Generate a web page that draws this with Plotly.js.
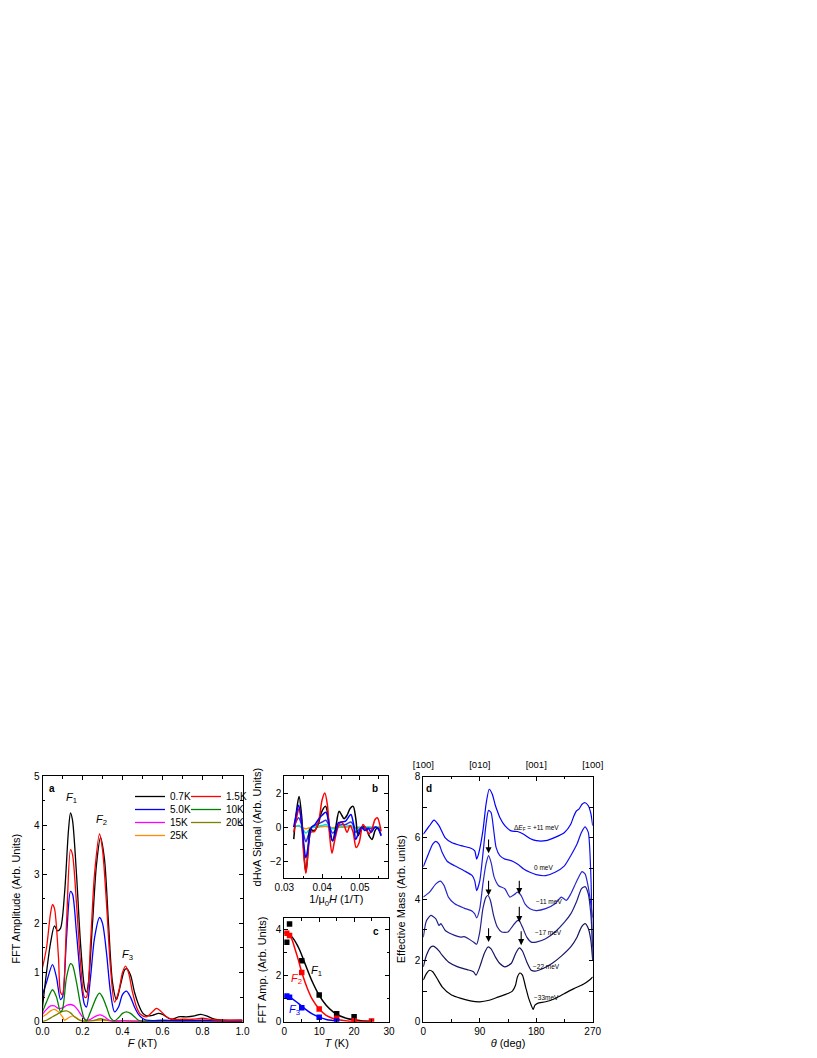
<!DOCTYPE html>
<html>
<head>
<meta charset="utf-8">
<script src="https://cdn.plot.ly/plotly-3.0.1.min.js"></script>
<style>
html,body{margin:0;padding:0;background:#fff;}
#plot{width:817px;height:1058px;}
</style>
</head>
<body>
<div id="plot"></div>
<script>
// ---------- Panel a: FFT amplitude vs F (kT) ----------
const aLabels = ['0.7K','1.5K','5.0K','10K','15K','20K','25K'];
const aColors = ['#000000','#ff0000','#0000ff','#008000','#ff00ff','#808000','#ff8c00'];
const a07F = [0,0.02,0.04,0.06,0.075,0.09,0.11,0.13,0.14,0.15,0.17,0.19,0.21,0.22,0.23,0.25,0.27,0.29,0.31,0.33,0.35,0.37,0.39,0.41,0.42,0.44,0.46,0.48,0.50,0.52,0.55,0.58,0.60,0.63,0.65,0.68,0.72,0.76,0.79,0.82,0.86,0.9,1.0];
const a07A = [0.3,1.0,1.6,1.95,1.85,1.9,2.6,3.9,4.25,4.1,3.0,1.6,0.7,0.6,0.8,2.0,3.2,3.75,3.3,2.0,0.8,0.45,0.75,1.05,1.08,0.95,0.6,0.35,0.18,0.12,0.13,0.17,0.15,0.07,0.05,0.1,0.1,0.12,0.15,0.12,0.05,0.03,0.03];
const a15F = [0,0.02,0.04,0.05,0.06,0.08,0.09,0.10,0.12,0.14,0.15,0.17,0.19,0.21,0.22,0.24,0.26,0.285,0.30,0.32,0.34,0.36,0.38,0.40,0.415,0.43,0.45,0.47,0.49,0.52,0.55,0.57,0.59,0.62,0.65,0.7,0.75,0.8,0.85,1.0];
const a15A = [1.1,1.5,2.2,2.38,2.3,1.3,0.6,0.55,2.0,3.5,3.4,2.4,1.2,0.5,0.5,1.6,3.0,3.82,3.5,2.4,1.1,0.4,0.6,1.0,1.13,1.0,0.6,0.3,0.15,0.1,0.2,0.27,0.22,0.1,0.05,0.05,0.05,0.07,0.04,0.03];
const a50F = [0,0.02,0.05,0.07,0.09,0.10,0.12,0.14,0.15,0.17,0.19,0.21,0.22,0.24,0.26,0.285,0.30,0.32,0.34,0.36,0.38,0.40,0.42,0.44,0.46,0.48,0.50,0.52,0.55,0.6,0.7,0.8,1.0];
const a50A = [0.55,0.8,1.16,0.9,0.45,0.5,1.7,2.65,2.6,1.8,0.9,0.35,0.3,0.9,1.7,2.12,2.0,1.4,0.6,0.2,0.3,0.55,0.62,0.5,0.3,0.15,0.07,0.03,0.02,0.03,0.02,0.03,0.01];
const a10F = [0,0.02,0.05,0.07,0.09,0.10,0.12,0.14,0.15,0.17,0.19,0.21,0.22,0.24,0.27,0.285,0.30,0.32,0.34,0.36,0.38,0.40,0.42,0.44,0.46,0.48,0.50,0.6,0.8,1.0];
const a10A = [0.2,0.4,0.65,0.5,0.2,0.25,0.9,1.18,1.15,0.8,0.35,0.05,0.02,0.2,0.5,0.58,0.5,0.3,0.08,0.02,0.08,0.17,0.2,0.17,0.1,0.03,0.01,0.01,0.01,0.01];
const a15KF = [0,0.02,0.04,0.06,0.08,0.10,0.12,0.14,0.16,0.18,0.20,0.22,0.24,0.27,0.29,0.31,0.33,0.35,0.4,0.45,0.6,1.0];
const a15KA = [0.15,0.25,0.32,0.32,0.27,0.28,0.33,0.35,0.32,0.22,0.1,0.03,0.05,0.12,0.14,0.1,0.04,0.01,0.02,0.01,0.0,0.0];
const a20F = [0,0.02,0.05,0.08,0.10,0.12,0.14,0.16,0.18,0.20,0.25,0.29,0.32,0.35,0.4,0.6,1.0];
const a20A = [0.0,0.03,0.1,0.17,0.21,0.22,0.18,0.1,0.04,0.01,0.02,0.06,0.03,0.01,0.01,0.0,0.0];
const a25F = [0,0.02,0.04,0.06,0.08,0.10,0.11,0.13,0.15,0.17,0.19,0.22,0.25,0.3,0.35,0.4,0.5,1.0];
const a25A = [0.1,0.15,0.22,0.25,0.2,0.1,0.03,0.08,0.12,0.08,0.03,0.01,0.02,0.03,0.01,0.02,0.01,0.0];
const aPeakLabels = ['1','2','3'];
const aPeakF = [0.145,0.295,0.425];
const aPeakA = [4.55,4.1,1.36];
// legend grid of the reference: [row, column] of each entry
const aLegendRow = [0,0,1,1,2,2,3];
const aLegendCol = [0,1,0,1,0,1,0];

// ---------- Panel b: dHvA signal vs 1/mu0H ----------
const bLabels = ['0.7K','1.5K','5.0K','10K','15K','25K'];
const bColors = ['#000000','#ff0000','#0000ff','#3333dd','#00dddd','#ff8c00'];
const bXk = [0.0325,0.0332,0.0339,0.0346,0.0351,0.0357,0.0363,0.0368,0.0375,0.0382,0.0390,0.0398,0.0409,0.0416,0.0421,0.0428,0.0436,0.0445,0.0452,0.0458,0.0466,0.0474,0.0482,0.0489,0.0495,0.0502,0.0510,0.0517,0.0524,0.0532,0.0540,0.0546,0.0556];
const bYk = [-0.7,0.9,1.8,0.6,-1.2,-2.65,-1.3,-0.1,-0.2,-0.15,0.2,0.85,1.22,0.6,-0.4,-0.8,0.0,0.93,0.7,0.5,0.7,1.1,1.22,0.5,-0.5,-0.2,0.05,-0.1,-0.5,-0.72,-0.2,-0.05,-0.45];
const bXr = [0.0325,0.0332,0.0339,0.0346,0.0351,0.0357,0.0363,0.0370,0.0380,0.0392,0.0400,0.0407,0.0414,0.0420,0.0426,0.0433,0.0442,0.0450,0.0458,0.0466,0.0474,0.0482,0.0490,0.0498,0.0508,0.0516,0.0524,0.0532,0.0540,0.0546,0.0556];
const bYr = [-0.3,0.5,1.1,0.2,-1.5,-2.7,-1.5,-0.3,-0.25,0.5,1.6,2.0,1.3,-0.5,-1.53,-0.8,0.0,0.3,0.1,-0.3,0.1,-0.3,-1.2,-0.9,0.15,-0.1,-0.4,-0.1,0.45,0.55,-0.25];
const bX = [0.0325,0.0332,0.0338,0.0345,0.0351,0.0357,0.0364,0.0372,0.0381,0.0390,0.0400,0.0410,0.0418,0.0428,0.0436,0.0443,0.0452,0.0462,0.0470,0.0476,0.0483,0.0489,0.0497,0.0505,0.0513,0.0522,0.0530,0.0540,0.0548,0.0556];
const bY5 = [0.0,0.8,1.28,0.4,-0.9,-1.8,-1.0,0.0,0.15,0.45,0.7,0.87,0.2,-0.8,-0.3,0.25,0.3,0.35,0.6,0.74,0.2,-0.72,-0.3,0.0,-0.2,-0.1,-0.3,0.0,-0.1,-0.52];
const bY10 = [0.0,0.35,0.55,0.2,-0.4,-0.85,-0.45,0.0,0.1,0.2,0.3,0.4,0.1,-0.35,-0.15,0.1,0.15,0.15,0.25,0.3,0.1,-0.3,-0.15,0.0,-0.1,-0.05,-0.1,0.0,-0.05,-0.2];
const bY15 = [0.0,0.05,0.1,0.0,-0.2,-0.35,-0.2,-0.05,0.0,0.05,0.1,0.15,0.05,-0.1,-0.05,0.02,0.05,0.05,0.08,0.1,0.03,-0.08,-0.03,0,-0.02,0,-0.02,0,0,-0.05];
const bY25 = [0.05,0.05,0.05,0.0,-0.05,-0.1,-0.05,0.0,0.0,0.0,0.03,0.05,0.0,-0.03,0,0,0,0,0.02,0.02,0,-0.02,0,0,0,0,0,0,0,-0.02];

// ---------- Panel c: FFT amplitude vs T ----------
const cT1 = [0.7,1.5,5,10,15,20];
const cA1 = [3.46,4.25,2.65,1.16,0.35,0.22];
const cT2 = [0.7,1.5,5,10,15,20,25];
const cA2 = [3.85,3.75,2.14,0.55,0.15,0.04,0.03];
const cT3 = [0.7,1.5,5,10,15];
const cA3 = [1.12,1.06,0.61,0.19,0.03];
const cFitT1 = [0,2,4,6,8,10,12,14,16,18,20,22,25];
const cFitA1 = [3.85,3.72,3.25,2.5,1.75,1.15,0.72,0.43,0.25,0.14,0.08,0.04,0.02];
const cFitT2 = [0,1,2,3,4,5,6,7,8,10,12,14,16,18,20,25];
const cFitA2 = [3.9,3.85,3.65,3.2,2.7,2.15,1.7,1.3,0.98,0.55,0.28,0.14,0.07,0.03,0.015,0.005];
const cFitT3 = [0,1,2,4,6,8,10,12,14,15];
const cFitA3 = [1.12,1.1,1.03,0.8,0.55,0.34,0.2,0.1,0.05,0.03];
const cColors = ['#000000','#ff0000','#0000ff'];
const cLabelT = [9.3,3.6,3.0];
const cLabelA = [2.2,1.85,0.5];

// ---------- Panel d: effective mass vs theta ----------
const dLabels = ['\u0394<i>E</i><sub>F</sub> = +11 meV','0 meV','\u221211 meV','\u221217 meV','\u221222 meV','\u221233meV'];
const dColors = ['#0000ff','#1010f0','#2828c8','#202088','#141460','#000000'];
const dTh1 = [0,10,17,25,35,45,60,75,82,85,88,95,100,105,110,115,118,122,130,140,150,160,170,180,195,210,225,235,240,244,248,253,258,263,267,270];
const dM1 = [6.12,6.4,6.58,6.4,6.0,5.85,5.75,5.67,5.58,5.31,5.47,6.23,7.1,7.59,7.43,7.05,6.88,6.67,6.4,6.23,6.21,6.12,5.98,5.91,5.91,6.02,6.18,6.45,6.72,6.88,6.94,7.1,7.15,7.05,6.8,6.4];
const dTh2 = [0,8,15,20,25,30,38,50,65,78,82,85,90,95,100,104,108,112,116,122,130,140,150,160,170,180,195,210,225,235,245,252,258,263,267,270];
const dM2 = [5.06,5.47,5.8,5.89,5.8,5.53,5.24,5.09,4.93,4.77,4.6,4.28,4.6,5.47,6.45,6.9,6.83,6.29,5.69,5.42,5.31,5.26,5.15,4.99,4.88,4.8,4.77,4.88,5.09,5.42,5.8,6.18,6.36,6.18,4.82,2.0];
const dTh3 = [0,10,20,27,33,40,50,65,78,82,85,90,95,100,104,108,113,120,130,138,145,150,156,162,170,180,195,210,220,228,235,245,253,258,263,270];
const dM3 = [4.07,4.23,4.5,4.59,4.45,4.07,3.85,3.71,3.61,3.52,3.39,3.69,4.5,5.15,5.42,5.2,4.72,4.44,4.34,4.07,4.15,4.23,4.12,3.85,3.69,3.63,3.69,3.85,4.07,3.96,4.17,4.61,4.9,4.82,4.39,3.4];
const dTh4 = [0,5,12,20,25,28,35,50,60,65,72,80,85,90,95,100,103,107,112,118,125,135,143,150,153,158,165,172,180,195,210,225,235,245,252,258,263,267,270];
const dM4 = [2.76,3.3,3.47,3.36,3.14,3.2,2.98,2.82,2.76,2.78,2.71,2.6,2.53,2.93,3.69,4.07,4.12,3.96,3.47,3.09,2.93,2.93,3.14,3.3,3.3,3.09,2.76,2.6,2.6,2.71,2.93,3.25,3.52,3.96,4.34,4.41,4.17,3.52,2.44];
const dTh5 = [0,5,12,17,25,30,40,55,70,80,84,90,97,103,108,115,122,130,140,147,153,158,165,172,178,190,205,220,235,245,252,258,263,267,270];
const dM5 = [1.79,2.17,2.44,2.46,2.31,2.17,1.95,1.79,1.7,1.63,1.52,1.79,2.22,2.44,2.38,2.11,1.9,1.79,1.9,2.22,2.41,2.31,1.95,1.68,1.65,1.73,1.9,2.14,2.44,2.76,3.09,3.2,3.04,2.66,2.0];
const dTh6 = [0,5,10,15,22,30,45,60,75,90,105,120,135,142,147,150,154,158,163,168,172,175,178,182,195,210,225,240,255,265,270];
const dM6 = [1.36,1.57,1.68,1.63,1.41,1.14,0.87,0.76,0.68,0.65,0.7,0.81,0.92,1.0,1.19,1.46,1.59,1.52,1.14,0.76,0.54,0.4,0.54,0.6,0.65,0.76,0.92,1.08,1.22,1.36,1.46];
const dLabelTh = [180,192,200,199,197,197];
const dLabelM = [6.33,5.03,3.94,2.91,1.8,0.8];
const dArrowTh = [104,104,153,153,104,156];
const dArrowTip = [5.5,4.12,4.17,3.25,2.6,2.5];
const dArrowTail = [6.0,4.65,4.65,3.8,3.1,3.0];
const dTopTicks = [0,90,180,270];
const dTopLabels = ['[100]','[010]','[001]','[100]'];

// ---------- traces ----------
const FONT = 'Liberation Sans, Arial, sans-serif';
const traces = [];
const aF = [a07F,a15F,a50F,a10F,a15KF,a20F,a25F];
const aA = [a07A,a15A,a50A,a10A,a15KA,a20A,a25A];
const legendId = i => (i === 0 ? 'legend' : 'legend' + (i + 1));
// draw order: high-T curves first so low-T ones lie on top
const aOrder = [6,5,4,3,2,0,1];
aOrder.forEach(i => {
  traces.push({x:aF[i], y:aA[i], type:'scatter', mode:'lines', name:aLabels[i],
    line:{color:aColors[i], width:1.3, shape:'spline', smoothing:0.8},
    xaxis:'x', yaxis:'y', legend:legendId(i)});
});
const bXs = [bXk,bXr,bX,bX,bX,bX];
const bYs = [bYk,bYr,bY5,bY10,bY15,bY25];
[5,4,3,0,1,2].forEach(i => {
  traces.push({x:bXs[i], y:bYs[i], type:'scatter', mode:'lines', name:bLabels[i], showlegend:false,
    line:{color:bColors[i], width:1.5, shape:'spline', smoothing:0.9}, xaxis:'x2', yaxis:'y2'});
});
const cFitT = [cFitT1,cFitT2,cFitT3], cFitA = [cFitA1,cFitA2,cFitA3];
const cT = [cT1,cT2,cT3], cA = [cA1,cA2,cA3];
for (let i=0;i<3;i++){
  traces.push({x:cFitT[i], y:cFitA[i], type:'scatter', mode:'lines', showlegend:false,
    line:{color:cColors[i], width:1.5, shape:'spline'}, xaxis:'x3', yaxis:'y3'});
  traces.push({x:cT[i], y:cA[i], type:'scatter', mode:'markers', showlegend:false,
    marker:{symbol:'square', size:5.5, color:cColors[i]}, xaxis:'x3', yaxis:'y3'});
}
const dTh = [dTh1,dTh2,dTh3,dTh4,dTh5,dTh6], dM = [dM1,dM2,dM3,dM4,dM5,dM6];
for (let i=0;i<6;i++){
  traces.push({x:dTh[i], y:dM[i], type:'scatter', mode:'lines', showlegend:false, name:dLabels[i],
    line:{color:dColors[i], width:1.2, shape:'spline', smoothing:0.6}, xaxis:'x4', yaxis:'y4'});
}
// invisible trace that activates the top axis of panel d
traces.push({x:[dTopTicks[0], dTopTicks[3]], y:[0,0], type:'scatter', mode:'lines', showlegend:false,
  line:{width:0}, opacity:0, hoverinfo:'skip', xaxis:'x5', yaxis:'y4'});

// ---------- layout ----------
const W = 817, H = 1058;
const px = v => v / W;
const py = v => 1 - v / H;
function ax(extra){
  return Object.assign({
    showline:true, linecolor:'#000', linewidth:1, mirror:'allticks',
    ticks:'inside', ticklen:4, tickwidth:1, tickcolor:'#000',
    showgrid:false, zeroline:false,
    tickfont:{family:FONT, size:10, color:'#000'},
    automargin:false
  }, extra);
}
function minor(d){ return {dtick:d, ticks:'inside', ticklen:2.5, tickwidth:1, tickcolor:'#000', showgrid:false}; }
function ttl(text, standoff){ return {text:text, font:{family:FONT, size:11, color:'#000'}, standoff:standoff}; }

const annotations = [];
function lab(text, xr, yr, x, y, opts){
  annotations.push(Object.assign({text:text, xref:xr, yref:yr, x:x, y:y, showarrow:false,
    xanchor:'center', yanchor:'middle',
    font:{family:FONT, size:10, color:'#000'}}, opts||{}));
}
lab('<b>a</b>','x domain','y domain',0.045,0.95);
lab('<b>b</b>','x2 domain','y2 domain',0.872,0.88);
lab('<b>c</b>','x3 domain','y3 domain',0.872,0.87);
lab('<b>d</b>','x4 domain','y4 domain',0.036,0.952);
aPeakLabels.forEach((t,i)=> lab('<i>F</i><sub>'+t+'</sub>', 'x','y', aPeakF[i], aPeakA[i], {font:{family:FONT,size:11,color:'#000'}}));
cColors.forEach((c,i)=> lab('<i>F</i><sub>'+(i+1)+'</sub>','x3','y3',cLabelT[i],cLabelA[i],{font:{family:FONT,size:11,color:c}}));
dLabels.forEach((t,i)=> lab(t,'x4','y4',dLabelTh[i],dLabelM[i],{font:{family:FONT,size:6.5,color:'#000'}}));
dArrowTh.forEach((th,i)=> annotations.push({xref:'x4', yref:'y4', axref:'x4', ayref:'y4',
  x:th, y:dArrowTip[i], ax:th, ay:dArrowTail[i], text:'', showarrow:true,
  arrowhead:2, arrowsize:1.1, arrowwidth:1.1, arrowcolor:'#000', standoff:0, startstandoff:0}));

// one single-entry legend per cell of the reference's 2-column legend grid
const legColX = [130, 186];
const legRowY = [795, 808, 821, 834];
function legendCell(i){
  return {x:px(legColX[aLegendCol[i]]), y:py(legRowY[aLegendRow[i]] - 13), xanchor:'left', yanchor:'top',
    bgcolor:'rgba(0,0,0,0)', borderwidth:0,
    font:{family:FONT,size:10,color:'#000'}, tracegroupgap:0};
}

const layout = {
  width:W, height:H, margin:{l:0,r:0,t:0,b:0},
  paper_bgcolor:'#fff', plot_bgcolor:'#fff',
  font:{family:FONT, size:10, color:'#000'},
  xaxis: ax({domain:[px(42.5),px(242.5)], range:[0,1], dtick:0.2, tick0:0, tickformat:'.1f', minor:minor(0.1), anchor:'y',
    title:ttl('<i>F</i> (kT)',3)}),
  yaxis: ax({domain:[py(1021.7),py(776)], range:[0,5], dtick:1, minor:minor(0.5), anchor:'x',
    title:ttl('FFT Amplitude (Arb. Units)',11)}),
  xaxis2: ax({domain:[px(284.3),px(388.3)], range:[0.03,0.0575], dtick:0.01, tick0:0.03, tickformat:'.2f', minor:minor(0.005), anchor:'y2',
    title:ttl('1/\u03bc<sub>0</sub><i>H</i> (1/T)',2)}),
  yaxis2: ax({domain:[py(878.3),py(776)], range:[-3,3], dtick:2, minor:minor(1), anchor:'x2',
    title:ttl('dHvA Signal (Arb. Units)',6)}),
  xaxis3: ax({domain:[px(284.3),px(389)], range:[0,30], dtick:10, minor:minor(5), anchor:'y3',
    title:ttl('<i>T</i> (K)',3)}),
  yaxis3: ax({domain:[py(1021.7),py(918.3)], range:[0,4.5], dtick:2, minor:minor(1), anchor:'x3',
    title:ttl('FFT Amp. (Arb. Units)',6)}),
  xaxis4: ax({domain:[px(423.3),px(592.7)], range:[0,270], dtick:90, minor:minor(45), anchor:'y4',
    title:ttl('<i>\u03b8</i> (deg)',3)}),
  yaxis4: ax({domain:[py(1021.7),py(776.7)], range:[0,8], dtick:2, minor:minor(1), anchor:'x4',
    title:ttl('Effective Mass (Arb. units)',6)}),
  xaxis5: {overlaying:'x4', side:'top', anchor:'y4', range:[0,270], tickmode:'array', tickvals:dTopTicks, ticktext:dTopLabels,
    ticks:'', showline:false, showgrid:false, zeroline:false, automargin:false, ticklabelstandoff:6,
    tickfont:{family:FONT, size:9.5, color:'#000'}},
  annotations:annotations,
  showlegend:true
};
aLabels.forEach((l,i)=> { layout[legendId(i)] = legendCell(i); });
Plotly.newPlot('plot', traces, layout, {staticPlot:true});
</script>
</body>
</html>
